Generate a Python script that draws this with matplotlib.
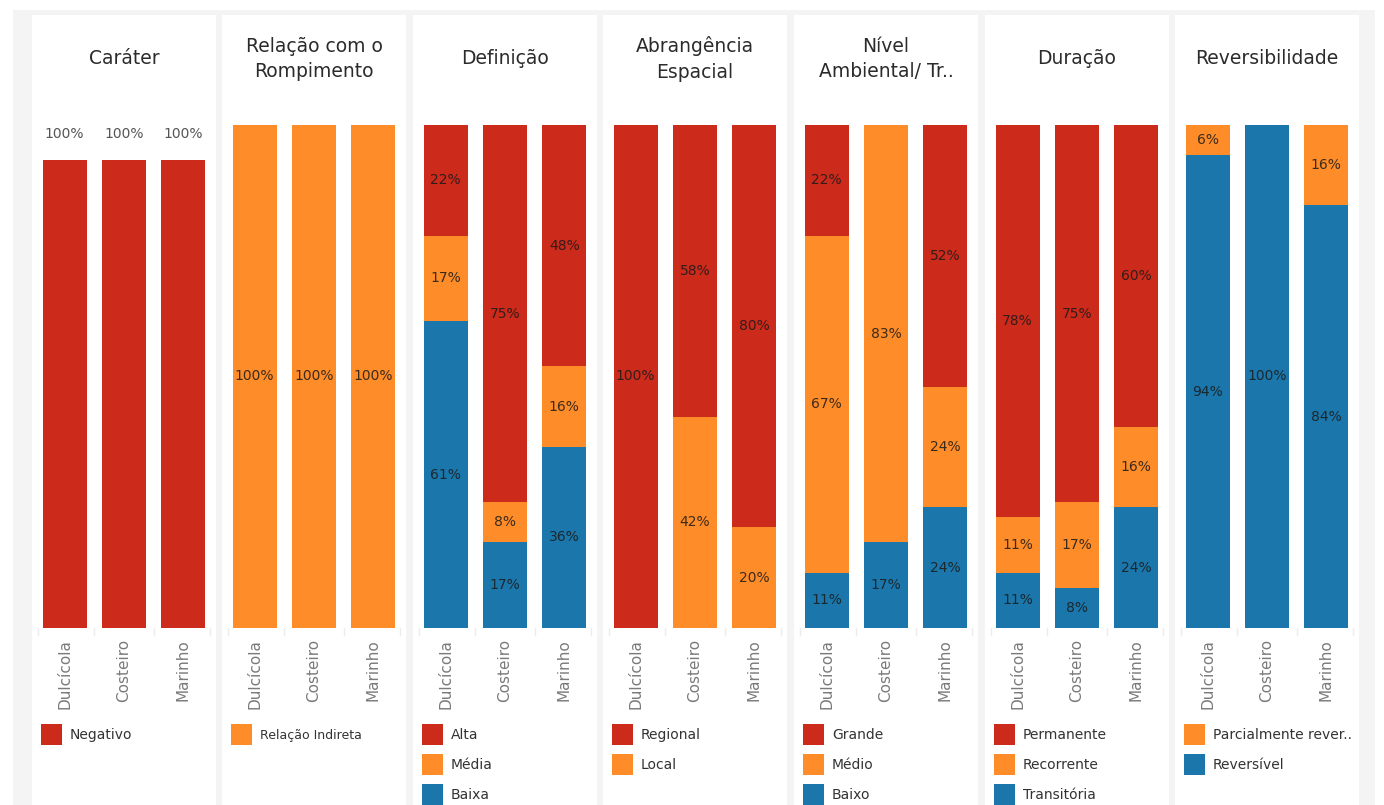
import matplotlib
matplotlib.use("Agg")
import matplotlib.pyplot as plt
from matplotlib.patches import Rectangle

# ---- data -------------------------------------------------------------
environments = ["Dulcícola", "Costeiro", "Marinho"]

panel_titles = [
    "Caráter",
    "Relação com o\nRompimento",
    "Definição",
    "Abrangência\nEspacial",
    "Nível\nAmbiental/ Tr..",
    "Duração",
    "Reversibilidade",
]

carater_labels = ["Negativo"]
carater_negativo = [100, 100, 100]

rompimento_labels = ["Relação Indireta"]
rompimento_indireta = [100, 100, 100]

definicao_labels = ["Alta", "Média", "Baixa"]
definicao_alta = [22, 75, 48]
definicao_media = [17, 8, 16]
definicao_baixa = [61, 17, 36]

abrangencia_labels = ["Regional", "Local"]
abrangencia_regional = [100, 58, 80]
abrangencia_local = [0, 42, 20]

nivel_labels = ["Grande", "Médio", "Baixo"]
nivel_grande = [22, 0, 52]
nivel_medio = [67, 83, 24]
nivel_baixo = [11, 17, 24]

duracao_labels = ["Permanente", "Recorrente", "Transitória"]
duracao_permanente = [78, 75, 60]
duracao_recorrente = [11, 17, 16]
duracao_transitoria = [11, 8, 24]

reversibilidade_labels = ["Parcialmente rever..", "Reversível"]
reversibilidade_parcial = [6, 0, 16]
reversibilidade_reversivel = [94, 100, 84]

# ---- styling ------------------------------------------------------------
RED = "#cc2a1a"
ORANGE = "#fe8c28"
BLUE = "#1b77ab"

panels = [
    (carater_labels, [carater_negativo], [RED]),
    (rompimento_labels, [rompimento_indireta], [ORANGE]),
    (definicao_labels, [definicao_alta, definicao_media, definicao_baixa], [RED, ORANGE, BLUE]),
    (abrangencia_labels, [abrangencia_regional, abrangencia_local], [RED, ORANGE]),
    (nivel_labels, [nivel_grande, nivel_medio, nivel_baixo], [RED, ORANGE, BLUE]),
    (duracao_labels, [duracao_permanente, duracao_recorrente, duracao_transitoria], [RED, ORANGE, BLUE]),
    (reversibilidade_labels, [reversibilidade_parcial, reversibilidade_reversivel], [ORANGE, BLUE]),
]

W, H = 1384, 805
fig = plt.figure(figsize=(W / 100, H / 100), dpi=100)
fig.patch.set_facecolor("white")


def fx(x):
    return x / W


def fy(y):
    return 1 - y / H


# dashboard background
fig.patches.append(Rectangle((fx(13), 0), fx(1375 - 13), fy(10), transform=fig.transFigure,
                             facecolor="#f4f4f4", edgecolor="none", zorder=-3))

panel_lefts = [32, 222, 413, 603, 794, 985, 1175]
panel_w = 184
axes_top, axes_bottom = 125, 628

for i, (labels, series, colors) in enumerate(panels):
    left = panel_lefts[i]
    fig.patches.append(Rectangle((fx(left), 0), fx(panel_w), fy(15), transform=fig.transFigure,
                                 facecolor="white", edgecolor="none", zorder=-2))

    ax = fig.add_axes([fx(left + 3), fy(axes_bottom), fx(178), (axes_bottom - axes_top) / H])
    ax.set_facecolor("none")
    ax.set_zorder(1)
    xs = list(range(len(environments)))

    ymax = 107.5 if i == 0 else 100
    # stack from the bottom: last legend entry sits lowest
    bottoms = [0] * len(environments)
    for vals, col in zip(reversed(series), reversed(colors)):
        ax.bar(xs, vals, width=0.74, bottom=bottoms, color=col, edgecolor="none")
        for x, v, b in zip(xs, vals, bottoms):
            if v <= 0:
                continue
            if i == 0:
                ax.text(x, v + 5.5, f"{v}%", ha="center", va="center",
                        fontsize=10, color="#555555")
            else:
                ax.text(x, b + v / 2, f"{v}%", ha="center", va="center",
                        fontsize=10, color="#1a1a1a", alpha=0.85)
        bottoms = [b + v for b, v in zip(bottoms, vals)]

    # faint column separators below the baseline
    for sx in (-0.45, 0.5, 1.5, 2.45):
        ax.plot([sx, sx], [0, -0.014], transform=ax.get_xaxis_transform(),
                color="#ececec", lw=1, clip_on=False)

    ax.set_xlim(-0.5, 2.5)
    ax.set_ylim(0, ymax)
    ax.set_xticks(xs)
    ax.set_xticklabels(environments, rotation=90, fontsize=11, color="#7a7a7a")
    ax.tick_params(axis="x", length=0, pad=8)
    ax.set_yticks([])
    for s in ax.spines.values():
        s.set_visible(False)

    # panel title
    fig.text(fx(left + panel_w / 2), fy(59), panel_titles[i], ha="center", va="center",
             fontsize=13.5, color="#2b2b2b", linespacing=1.4)

    # legend
    for j, (lab, col) in enumerate(zip(labels, colors)):
        yc = 735 + 30 * j
        fig.patches.append(Rectangle((fx(left + 9), fy(yc + 10)), fx(21), 21 / H,
                                     transform=fig.transFigure, facecolor=col,
                                     edgecolor="none", zorder=2))
        fs = 9 if lab == "Relação Indireta" else 10
        fig.text(fx(left + 38), fy(yc), lab, ha="left", va="center",
                 fontsize=fs, color="#333333")

fig.savefig("out.png", dpi=100, facecolor=fig.get_facecolor())
